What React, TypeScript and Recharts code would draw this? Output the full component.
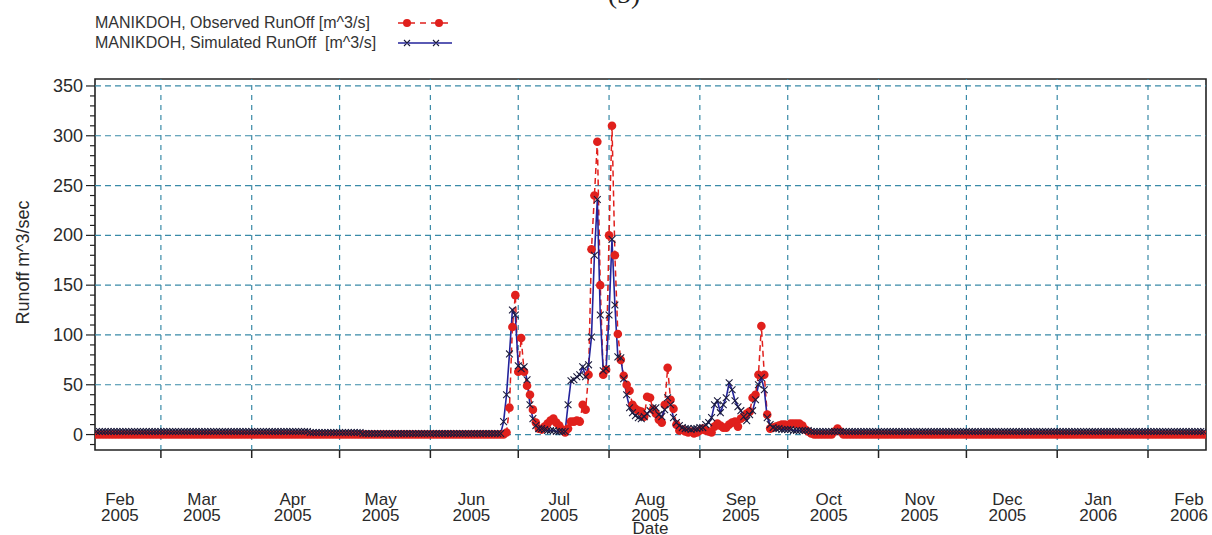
import React from "react";
import {
  ComposedChart,
  Line,
  XAxis,
  YAxis,
  ReferenceLine,
  ReferenceArea,
} from "recharts";

// first day of the daily series
const START_DATE = "2005-02-07";

// month boundaries (tick marks + vertical grid)
const monthStarts = [
  "2005-03-01", "2005-04-01", "2005-05-01", "2005-06-01", "2005-07-01", "2005-08-01",
  "2005-09-01", "2005-10-01", "2005-11-01", "2005-12-01", "2006-01-01", "2006-02-01",
];

// where the month labels sit
const monthLabelDates = [
  "2005-02-15", "2005-03-15", "2005-04-15", "2005-05-15", "2005-06-15", "2005-07-15", "2005-08-15",
  "2005-09-15", "2005-10-15", "2005-11-15", "2005-12-15", "2006-01-15", "2006-02-15",
];
const monthNames = ["Feb", "Mar", "Apr", "May", "Jun", "Jul", "Aug", "Sep", "Oct", "Nov", "Dec", "Jan", "Feb"];
const monthYears = ["2005", "2005", "2005", "2005", "2005", "2005", "2005", "2005", "2005", "2005", "2005", "2006", "2006"];

const yTicks = [-10, 0, 10, 20, 30, 40, 50, 60, 70, 80, 90, 100, 110, 120, 130, 140, 150, 160, 170, 180, 190, 200,
  210, 220, 230, 240, 250, 260, 270, 280, 290, 300, 310, 320, 330, 340, 350];
const yGridValues = [0, 50, 100, 150, 200, 250, 300, 350];

// daily observed runoff m^3/s (one line per month)
const observedRunoff = [
  /* Feb 7-28 */ 0,0,0,0,0,0,0,0,0,0, 0,0,0,0,0,0,0,0,0,0, 0,0,
  /* Mar */ 0,0,0,0,0,0,0,0,0,0, 0,0,0,0,0,0,0,0,0,0, 0,0,0,0,0,0,0,0,0,0, 0,
  /* Apr */ 0,0,0,0,0,0,0,0,0,0, 0,0,0,0,0,0,0,0,0,0, 0,0,0,0,0,0,0,0,0,0,
  /* May */ 0,0,0,0,0,0,0,0,0,0, 0,0,0,0,0,0,0,0,0,0, 0,0,0,0,0,0,0,0,0,0, 0,
  /* Jun */ 0,0,0,0,0,0,0,0,0,0, 0,0,0,0,0,0,0,0,0,0, 0,0,0,0,0,0,2,27,108,140,
  /* Jul */ 63,97,63,49,40,25,12,6,5,8, 11,14,16,12,9,5,2,6,13,13, 14,13,30,25,60,186,240,294,150,60, 65,
  /* Aug */ 200,310,180,101,75,59,50,44,30,26, 24,23,18,38,37,25,21,15,12,30, 67,35,26,10,4,5,3,2,3,1, 2,
  /* Sep */ 4,6,4,3,2,8,11,9,7,7, 10,12,13,8,16,18,21,23,37,40, 60,109,60,20,6,7,8,9,10,10,
  /* Oct */ 9,11,11,11,11,9,5,3,1,0, 0,0,0,0,0,0,3,6,3,0, 0,0,0,0,0,0,0,0,0,0, 0,
  /* Nov */ 0,0,0,0,0,0,0,0,0,0, 0,0,0,0,0,0,0,0,0,0, 0,0,0,0,0,0,0,0,0,0,
  /* Dec */ 0,0,0,0,0,0,0,0,0,0, 0,0,0,0,0,0,0,0,0,0, 0,0,0,0,0,0,0,0,0,0, 0,
  /* Jan */ 0,0,0,0,0,0,0,0,0,0, 0,0,0,0,0,0,0,0,0,0, 0,0,0,0,0,0,0,0,0,0, 0,
  /* Feb 1-20 */ 0,0,0,0,0,0,0,0,0,0, 0,0,0,0,0,0,0,0,0,0,
];

// daily simulated runoff m^3/s
const simulatedRunoff = [
  /* Feb 7-28 */ 3,3,3,3,3,3,3,3,3,3, 3,3,3,3,3,3,3,3,3,3, 3,3,
  /* Mar */ 3,3,3,3,3,3,3,3,3,3, 3,3,3,3,3,3,3,3,3,3, 3,3,3,3,3,3,3,3,3,3, 3,
  /* Apr */ 3,3,3,3,3,3,3,3,3,3, 3,3,3,3,3,3,3,3,3,3, 2,2,2,2,2,2,2,2,2,2,
  /* May */ 2,2,2,2,2,2,2,2,1,1, 1,1,1,1,1,1,1,1,1,1, 1,1,1,1,1,1,1,1,1,1, 1,
  /* Jun */ 1,1,1,1,1,1,1,1,1,1, 1,1,1,1,1,1,1,1,1,1, 1,1,1,1,1,13,40,81,125,120,
  /* Jul */ 69,66,68,55,30,16,9,6,6,5, 4,4,4,3,3,3,3,30,54,55, 58,60,68,58,70,98,180,236,120,64, 66,
  /* Aug */ 120,196,130,78,77,56,40,27,22,19, 17,16,18,21,24,27,27,20,18,25, 37,30,17,12,9,7,6,6,5,6, 6,
  /* Sep */ 7,7,10,12,17,30,34,22,30,37, 52,45,34,28,24,18,14,20,24,35, 50,57,45,17,10,7,6,6,5,5,
  /* Oct */ 5,5,4,4,4,4,4,4,3,3, 3,3,3,3,3,3,3,3,3,3, 3,3,3,3,3,3,3,3,3,3, 3,
  /* Nov */ 3,3,3,3,3,3,3,3,3,3, 3,3,3,3,3,3,3,3,3,3, 3,3,3,3,3,3,3,3,3,3,
  /* Dec */ 3,3,3,3,3,3,3,3,3,3, 3,3,3,3,3,3,3,3,3,3, 3,3,3,3,3,3,3,3,3,3, 3,
  /* Jan */ 3,3,3,3,3,3,3,3,3,3, 3,3,3,3,3,3,3,3,3,3, 3,3,3,3,3,3,3,3,3,3, 3,
  /* Feb 1-20 */ 3,3,3,3,3,3,3,3,3,3, 3,3,3,3,3,3,3,3,3,3,
];

const DAY_MS = 86400000;
const dayIndex = (iso: string) =>
  Math.round((Date.parse(iso) - Date.parse(START_DATE)) / DAY_MS);

const rows = observedRunoff.map((v, i) => ({
  day: i,
  obs: v,
  sim: simulatedRunoff[i],
}));

const monthStartDays = monthStarts.map(dayIndex);
const labelDays = monthLabelDates.map(dayIndex);
const xTicks = [...monthStartDays, ...labelDays];

const FONT = '"Liberation Sans", Arial, sans-serif';
const GRID = "#3a8aa8";
const OBS_RED = "#e0201c";
const SIM_BLUE = "#23239b";

const XTick = (props: any) => {
  const { x, y, payload } = props;
  const idx = labelDays.indexOf(payload.value);
  if (idx < 0) {
    return <line x1={x} x2={x} y1={y} y2={y + 8} stroke="#222" strokeWidth={1.5} />;
  }
  return (
    <text x={x} y={y} textAnchor="middle" fontSize={17} fontFamily={FONT} fill="#2a2a2a">
      <tspan x={x} y={y + 55}>{monthNames[idx]}</tspan>
      <tspan x={x} y={y + 71}>{monthYears[idx]}</tspan>
    </text>
  );
};

const YTick = (props: any) => {
  const { x, y, payload } = props;
  const major = payload.value % 50 === 0;
  return (
    <g>
      <line x1={x - (major ? 9 : 5)} x2={x} y1={y} y2={y} stroke="#222" strokeWidth={1.2} />
      {major && (
        <text x={x - 12} y={y} dy={6} textAnchor="end" fontSize={18} fontFamily={FONT} fill="#2a2a2a">
          {payload.value}
        </text>
      )}
    </g>
  );
};

const CrossDot = (props: any) => {
  const { cx, cy, index } = props;
  if (cx == null || cy == null) return <g key={index} />;
  const s = 3.4;
  return (
    <path
      key={index}
      d={`M${cx - s},${cy - s}L${cx + s},${cy + s}M${cx - s},${cy + s}L${cx + s},${cy - s}`}
      stroke="#1b1b3c"
      strokeWidth={1.1}
      fill="none"
    />
  );
};

const YLabel = (props: any) => {
  const vb = props.viewBox || { x: 0, y: 79, height: 371 };
  const cx = vb.x + 23;
  const cy = vb.y + vb.height / 2 - 2;
  return (
    <text
      x={cx}
      y={cy}
      transform={`rotate(-90 ${cx} ${cy})`}
      textAnchor="middle"
      dominantBaseline="central"
      fontSize={18}
      fontFamily={FONT}
      fill="#2a2a2a"
    >
      Runoff m^3/sec
    </text>
  );
};

function LegendBox() {
  const rowStyle: React.CSSProperties = { display: "flex", alignItems: "center", height: 20 };
  return (
    <div
      style={{
        position: "absolute",
        left: 95,
        top: 13,
        fontFamily: FONT,
        fontSize: 16,
        color: "#333",
        whiteSpace: "pre",
      }}
    >
      <div style={rowStyle}>
        <span style={{ width: 303 }}>MANIKDOH, Observed RunOff [m^3/s]</span>
        <svg width={54} height={12}>
          <line x1={0} x2={54} y1={6} y2={6} stroke={OBS_RED} strokeWidth={1.5} strokeDasharray="6 5" />
          <circle cx={9} cy={6} r={4} fill={OBS_RED} />
          <circle cx={41} cy={6} r={4} fill={OBS_RED} />
        </svg>
      </div>
      <div style={rowStyle}>
        <span style={{ width: 303 }}>MANIKDOH, Simulated RunOff  [m^3/s]</span>
        <svg width={54} height={12}>
          <line x1={0} x2={54} y1={6} y2={6} stroke={SIM_BLUE} strokeWidth={1.5} />
          <path d="M6,3L12,9M6,9L12,3M35,3L41,9M35,9L41,3" stroke="#1b1b3c" strokeWidth={1.1} />
        </svg>
      </div>
    </div>
  );
}

export default function App() {
  return (
    <div style={{ position: "relative", width: 1212, height: 535, background: "#fff" }}>
      <style>{"body{margin:0}"}</style>
      <ComposedChart
        width={1212}
        height={535}
        data={rows}
        margin={{ top: 79, right: 6, bottom: 0, left: 0 }}
      >
        <XAxis
          dataKey="day"
          type="number"
          domain={[-0.5, 378.8]}
          allowDataOverflow
          ticks={xTicks}
          interval={0}
          tick={<XTick />}
          tickLine={false}
          axisLine={false}
          tickSize={0}
          tickMargin={0}
          height={85}
          label={{
            value: "Date",
            position: "insideBottom",
            offset: 1,
            fontSize: 17,
            fontFamily: FONT,
            fill: "#2a2a2a",
          }}
        />
        <YAxis
          type="number"
          domain={[-15.5, 357]}
          allowDataOverflow
          ticks={yTicks}
          interval={0}
          tick={<YTick />}
          tickLine={false}
          axisLine={false}
          tickSize={0}
          tickMargin={0}
          width={95}
          label={<YLabel />}
        />
        {yGridValues.map((v) => (
          <ReferenceLine key={"h" + v} y={v} stroke={GRID} strokeWidth={1.2} strokeDasharray="6 4" />
        ))}
        {monthStartDays.map((d) => (
          <ReferenceLine key={"v" + d} x={d} stroke={GRID} strokeWidth={1.2} strokeDasharray="5 5" />
        ))}
        <Line
          type="linear"
          dataKey="obs"
          stroke={OBS_RED}
          strokeWidth={1.5}
          strokeDasharray="6 4"
          dot={{ r: 4.3, fill: OBS_RED, stroke: "none" }}
          activeDot={false}
          isAnimationActive={false}
        />
        <Line
          type="linear"
          dataKey="sim"
          stroke={SIM_BLUE}
          strokeWidth={1.6}
          dot={<CrossDot />}
          activeDot={false}
          isAnimationActive={false}
        />
        <ReferenceArea
          x1={-0.5}
          x2={378.8}
          y1={-15.5}
          y2={357}
          fill="none"
          stroke="#222"
          strokeWidth={1.6}
        />
        <text x={624} y={3} textAnchor="middle" fontSize={28} fontFamily='"Liberation Serif", serif' fill="#222">
          (5)
        </text>
      </ComposedChart>
      <LegendBox />
    </div>
  );
}
